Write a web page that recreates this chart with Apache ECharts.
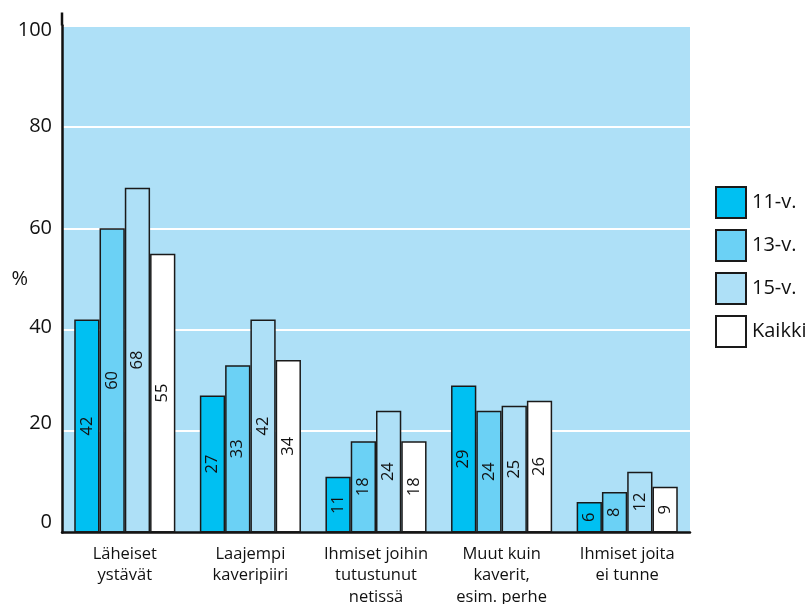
<!DOCTYPE html>
<html>
<head>
<meta charset="utf-8">
<script src="https://cdn.jsdelivr.net/npm/echarts@6/dist/echarts.min.js"></script>
<style>html,body{margin:0;padding:0;background:#fff}#c{width:811px;height:604px}</style>
</head>
<body>
<div id="c"></div>
<script>
const categories = ["Läheiset\nystävät", "Laajempi\nkaveripiiri", "Ihmiset joihin\ntutustunut\nnetissä", "Muut kuin\nkaverit,\nesim. perhe", "Ihmiset joita\nei tunne"];
const seriesNames = ["11-v.", "13-v.", "15-v.", "Kaikki"];
const v11 = [42, 27, 11, 29, 6];
const v13 = [60, 33, 18, 24, 8];
const v15 = [68, 42, 24, 25, 12];
const vAll = [55, 34, 18, 26, 9];
const yTicks = [0, 20, 40, 60, 80, 100];

const colors = ["#00c0f2", "#6bd1f5", "#aee0f7", "#ffffff"];
const FONT = "'Open Sans', 'Noto Sans', sans-serif";
const data = [v11, v13, v15, vAll];

// small vertical nudges of tick labels, as in the reference
const labelShift = {0: -10, 20: -8, 40: -2, 60: -0.5, 80: -1, 100: 4.5};
const rich = {};
yTicks.forEach(t => {
  const d = labelShift[t];
  rich['t' + t] = {fontSize: 20, color: '#111', fontFamily: FONT,
    padding: d >= 0 ? [2 * d, 0, 0, 0] : [0, 0, -2 * d, 0]};
});

const chart = echarts.init(document.getElementById('c'), null, {renderer: 'canvas'});
chart.setOption({
  animation: false,
  backgroundColor: '#ffffff',
  textStyle: {fontFamily: FONT},
  grid: {left: 62, right: 121, top: 25.5, bottom: 71.5, show: true, backgroundColor: '#aee0f7', borderWidth: 0,
         containLabel: false, outerBoundsMode: 'none'},
  legend: {
    orient: 'vertical', left: 710, top: 181,
    icon: 'rect',
    itemWidth: 30, itemHeight: 31, itemGap: 10,
    textStyle: {fontSize: 20, color: '#111', fontFamily: FONT, padding: [0, 0, 0, 1]},
    data: seriesNames
  },
  xAxis: {
    type: 'category', data: categories,
    axisLine: {lineStyle: {color: '#111', width: 2.5}},
    axisTick: {show: false},
    axisLabel: {interval: 0, fontSize: 16.5, lineHeight: 21.5, color: '#111', margin: 11, fontFamily: FONT}
  },
  yAxis: {
    type: 'value', min: 0, max: 100, interval: 20,
    name: '%', nameLocation: 'middle', nameRotate: 0, nameGap: 34, nameMoveOverlap: false,
    nameTextStyle: {fontSize: 20, color: '#111', fontFamily: FONT},
    axisLine: {show: true, lineStyle: {color: '#111', width: 2.5}, symbol: ['none', 'rect'], symbolSize: [2.5, 13], symbolOffset: [0, 6.5]},
    axisTick: {show: false},
    axisLabel: {margin: 10, fontFamily: FONT, rich: rich,
      formatter: v => yTicks.includes(v) ? '{t' + v + '|' + v + '}' : ''},
    splitLine: {show: true, lineStyle: {color: '#ffffff', width: 2}}
  },
  series: seriesNames.map((n, i) => ({
    name: n, type: 'bar', data: data[i],
    barGap: '0%', barCategoryGap: '19.5%',
    itemStyle: {color: colors[i], borderColor: '#1a1a1a', borderWidth: 1.5},
    label: {show: true, position: 'inside', rotate: 90, fontSize: 16.5, color: '#111', fontFamily: FONT}
  }))
});
</script>
</body>
</html>
